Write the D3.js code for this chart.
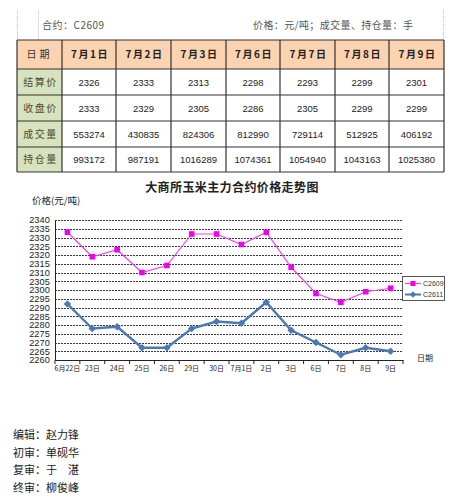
<!DOCTYPE html>
<html><head><meta charset="utf-8">
<script src="https://cdn.jsdelivr.net/npm/d3@7"></script>
<style>
body{margin:0;background:#fff;}
svg{display:block;}
</style></head>
<body>
<svg id="c" width="464" height="501"></svg>
<script>
// ---- table data ----
const tableDates = ["7月1日","7月2日","7月3日","7月6日","7月7日","7月8日","7月9日"];
const rowLabels = ["结算价","收盘价","成交量","持仓量"];
const settle = [2326,2333,2313,2298,2293,2299,2301];
const closeP = [2333,2329,2305,2286,2305,2299,2299];
const volume = [553274,430835,824306,812990,729114,512925,406192];
const openInt = [993172,987191,1016289,1074361,1054940,1043163,1025380];

// ---- chart data ----
const categories = ["6月22日","23日","24日","25日","26日","29日","30日","7月1日","2日","3日","6日","7日","8日","9日"];
const c2609 = [2333,2319,2323,2310,2314,2332,2332,2326,2333,2313,2298,2293,2299,2301];
const c2611 = [2292,2278,2279,2267,2267,2278,2282,2281,2293,2277,2270,2263,2267,2265];
const yTicks = [2260,2265,2270,2275,2280,2285,2290,2295,2300,2305,2310,2315,2320,2325,2330,2335,2340];
const seriesNames = ["C2609","C2611"];
const editors = ["编辑：赵力锋","初审：单砚华","复审：于　湛","终审：柳俊峰"];

(function(){
const svg = d3.select("#c");
const CJK = "'Noto Sans CJK SC','Noto Sans',sans-serif";

// ---- header line ----
svg.append("line").attr("x1",17.5).attr("x2",17.5).attr("y1",10).attr("y2",40).attr("stroke","#bbb").attr("stroke-dasharray","1,1");
svg.append("line").attr("x1",38.5).attr("x2",38.5).attr("y1",10).attr("y2",40).attr("stroke","#ddd");
svg.append("line").attr("x1",443.5).attr("x2",443.5).attr("y1",10).attr("y2",40).attr("stroke","#bbb").attr("stroke-dasharray","1,1");
svg.append("text").attr("x",42).attr("y",29).attr("font-family",CJK).attr("font-size",10).attr("fill","#555").attr("letter-spacing",0.5).text("合约：C2609");
svg.append("text").attr("x",253).attr("y",29).attr("font-family",CJK).attr("font-size",10).attr("fill","#555").attr("letter-spacing",0.4).text("价格：元/吨；成交量、持仓量：手");

// ---- table ----
const colX = [17,62,116,171,226,280,335,389,444];
const rowY = [40,69,95,121,147,172];
const rows = [settle, closeP, volume, openInt];
const tbl = svg.append("g");
tbl.append("rect").attr("x",colX[0]).attr("y",rowY[0]).attr("width",colX[8]-colX[0]).attr("height",rowY[1]-rowY[0]).attr("fill","#fbd3b0");
tbl.append("rect").attr("x",colX[0]).attr("y",rowY[1]).attr("width",colX[1]-colX[0]).attr("height",rowY[5]-rowY[1]).attr("fill","#d7e3bc");
colX.forEach(x=>tbl.append("line").attr("x1",x).attr("x2",x).attr("y1",rowY[0]).attr("y2",rowY[5]).attr("stroke","#333").attr("stroke-width",1.2));
rowY.forEach(y=>tbl.append("line").attr("x1",colX[0]).attr("x2",colX[8]).attr("y1",y).attr("y2",y).attr("stroke","#333").attr("stroke-width",1.2));
tbl.append("text").attr("x",(colX[0]+colX[1])/2).attr("y",(rowY[0]+rowY[1])/2+3.5).attr("text-anchor","middle")
  .attr("font-family",CJK).attr("font-size",10).attr("fill","#333").attr("letter-spacing",3).text("日期");
tableDates.forEach((d,i)=>{
  tbl.append("text").attr("x",(colX[i+1]+colX[i+2])/2+1).attr("y",(rowY[0]+rowY[1])/2+3.5).attr("text-anchor","middle")
    .attr("font-family",CJK).attr("font-size",10).attr("font-weight","bold").attr("fill","#222").attr("letter-spacing",1.5).text(d);
});
rowLabels.forEach((l,r)=>{
  tbl.append("text").attr("x",(colX[0]+colX[1])/2+1).attr("y",(rowY[r+1]+rowY[r+2])/2+3.5).attr("text-anchor","middle")
    .attr("font-family",CJK).attr("font-size",10).attr("fill","#4a4a3a").attr("letter-spacing",1.5).text(l);
  rows[r].forEach((v,i)=>{
    tbl.append("text").attr("x",(colX[i+1]+colX[i+2])/2).attr("y",(rowY[r+1]+rowY[r+2])/2+3.5).attr("text-anchor","middle")
      .attr("font-family","'Liberation Sans',Arial,sans-serif").attr("font-size",9.5).attr("fill","#222").text(v);
  });
});

// ---- chart ----
const pL=55, pR=403, pT=220, pB=360;
const x = d3.scaleBand().domain(categories).range([pL,pR]);
const y = d3.scaleLinear().domain([2260,2340]).range([pB,pT]);

svg.append("text").attr("x",232).attr("y",192).attr("text-anchor","middle").attr("font-family",CJK)
  .attr("font-size",12).attr("font-weight","bold").attr("fill","#222").attr("letter-spacing",0.4).text("大商所玉米主力合约价格走势图");
svg.append("text").attr("x",32).attr("y",204).attr("font-family",CJK).attr("font-size",9.5).attr("fill","#222").text("价格(元/吨)");

svg.append("g").selectAll("line").data(yTicks.filter(t=>t>2260)).join("line")
  .attr("x1",pL).attr("x2",pR).attr("y1",d=>Math.round(y(d))+0.5).attr("y2",d=>Math.round(y(d))+0.5)
  .attr("stroke","#222").attr("stroke-width",0.9).attr("stroke-dasharray","2,1");

const yAxis = svg.append("g").attr("transform",`translate(${pL},0)`)
  .call(d3.axisLeft(y).tickValues(yTicks).tickSize(0).tickPadding(5).tickFormat(d3.format("d")));
yAxis.select(".domain").attr("stroke","#222");
yAxis.selectAll("text").attr("font-family","'Liberation Sans',Arial,sans-serif").attr("font-size",9.2).attr("fill","#222").attr("letter-spacing",0.1);

const xAxis = svg.append("g").attr("transform",`translate(0,${pB})`)
  .call(d3.axisBottom(x).tickSize(0).tickPadding(6));
xAxis.select(".domain").attr("stroke","#222");
xAxis.selectAll("text").attr("font-family",CJK).attr("font-size",7).attr("fill","#222");
const bounds = categories.map(c=>x(c)).concat([pR]);
svg.append("g").selectAll("line").data(bounds).join("line")
  .attr("x1",d=>d).attr("x2",d=>d).attr("y1",pB).attr("y2",pB+4).attr("stroke","#222");

svg.append("text").attr("x",417).attr("y",361).attr("font-family",CJK).attr("font-size",8).attr("fill","#222").text("日期");

const cx = c=>x(c)+x.bandwidth()/2;
const line = d3.line().x((d,i)=>cx(categories[i])).y(d=>y(d));
svg.append("path").datum(c2609).attr("d",line).attr("fill","none").attr("stroke","#ee44ee").attr("stroke-width",1.2);
svg.append("path").datum(c2611).attr("d",line).attr("fill","none").attr("stroke","#4a7ab0").attr("stroke-width",2.4);
svg.append("g").selectAll("rect").data(c2609).join("rect")
  .attr("x",(d,i)=>cx(categories[i])-2.8).attr("y",d=>y(d)-2.8).attr("width",5.6).attr("height",5.6).attr("fill","#ee00ee");
const diamond = d3.symbol().type(d3.symbolDiamond2).size(36);
svg.append("g").selectAll("path").data(c2611).join("path")
  .attr("transform",(d,i)=>`translate(${cx(categories[i])},${y(d)})`).attr("d",diamond).attr("fill","#4a7ab0");

const lg = svg.append("g");
lg.append("rect").attr("x",402.5).attr("y",276.5).attr("width",42).attr("height",24).attr("fill","#fff").attr("stroke","#555");
const lcol = ["#ee44ee","#4a7ab0"];
seriesNames.forEach((n,i)=>{
  const yy = 283.5+i*11;
  lg.append("line").attr("x1",405).attr("x2",421).attr("y1",yy).attr("y2",yy).attr("stroke",lcol[i]).attr("stroke-width",i?2:1.2);
  if(i===0) lg.append("rect").attr("x",410.5).attr("y",yy-2.5).attr("width",5).attr("height",5).attr("fill","#ee00ee");
  else lg.append("path").attr("transform",`translate(413,${yy})`).attr("d",d3.symbol().type(d3.symbolDiamond2).size(25)).attr("fill",lcol[1]);
  lg.append("text").attr("x",423).attr("y",yy+2.5).attr("font-family","'Liberation Sans',Arial,sans-serif").attr("font-size",7).attr("fill","#333").text(n);
});

editors.forEach((t,i)=>{
  svg.append("text").attr("x",13).attr("y",439+i*17.5).attr("font-family",CJK).attr("font-size",11).attr("fill","#222").text(t);
});
})();
</script>
</body></html>
